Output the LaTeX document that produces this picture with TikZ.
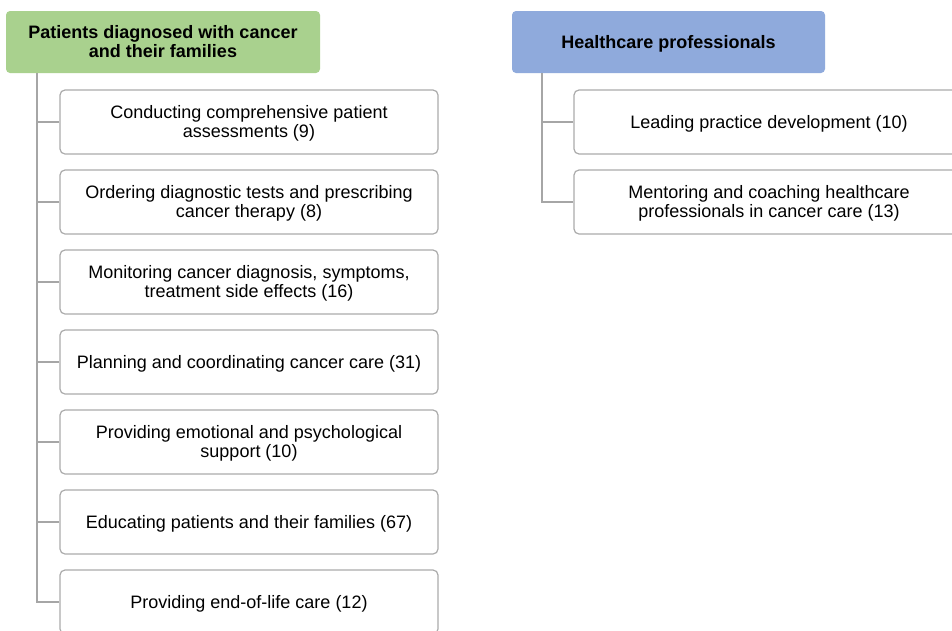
\documentclass[tikz,border=0pt]{standalone}
\usepackage{fontspec}
\setmainfont{Liberation Sans}
\definecolor{hgreen}{HTML}{A9D18E}
\definecolor{hblue}{HTML}{8FAADC}
\definecolor{boxgray}{HTML}{ABABAB}
\definecolor{conngray}{HTML}{A6A6A6}
\newcommand\lstr{\rule[-3.25pt]{0pt}{19pt}}
\newcommand\tightls{\lineskiplimit=-20pt\relax\lineskip=0pt\relax}
\begin{document}
\begin{tikzpicture}[x=1pt,y=-1pt,
  header/.style={rectangle, rounded corners=4pt, minimum height=62pt, inner sep=0pt,
     font=\fontsize{18}{19}\selectfont\tightls\bfseries, align=center, text=black},
  childbox/.style={rectangle, rounded corners=5pt, draw=boxgray, line width=1.2pt, fill=white,
     minimum height=64pt, inner sep=0pt, font=\fontsize{18}{19}\selectfont\tightls, align=center, text=black},
  conn/.style={draw=conngray, line width=1.3pt}]
\useasboundingbox (0,0) rectangle (952,630);
\clip (0,0) rectangle (952,630);
\fill[white] (0,0) rectangle (952,630);

\node[header, fill=hgreen, minimum width=314pt] (h1) at (163,42) {\lstr Patients diagnosed with cancer\\\lstr and their families};
\node[header, fill=hblue, minimum width=313pt] (h2) at (668.5,42) {\lstr Healthcare professionals};

\coordinate (t1) at (37,73);
\coordinate (t2) at (542,73);

\node[childbox, minimum width=378pt] (c1) at (249,122) {\lstr Conducting comprehensive patient\\\lstr assessments (9)};
\node[childbox, minimum width=378pt] (c2) at (249,202) {\lstr Ordering diagnostic tests and prescribing\\\lstr cancer therapy (8)};
\node[childbox, minimum width=378pt] (c3) at (249,282) {\lstr Monitoring cancer diagnosis, symptoms,\\\lstr treatment side effects (16)};
\node[childbox, minimum width=378pt] (c4) at (249,362) {\lstr Planning and coordinating cancer care (31)};
\node[childbox, minimum width=378pt] (c5) at (249,442) {\lstr Providing emotional and psychological\\\lstr support (10)};
\node[childbox, minimum width=378pt] (c6) at (249,522) {\lstr Educating patients and their families (67)};
\node[childbox, minimum width=378pt] (c7) at (249,602) {\lstr Providing end-of-life care (12)};

\node[childbox, minimum width=390pt] (r1) at (769,122) {\lstr Leading practice development (10)};
\node[childbox, minimum width=390pt] (r2) at (769,202) {\lstr Mentoring and coaching healthcare\\\lstr professionals in cancer care (13)};

\draw[conn] (t1) |- (c7.west);
\foreach \n in {c1,c2,c3,c4,c5,c6}{
  \draw[conn] (t1 |- \n.west) -- (\n.west);
}
\draw[conn] (t2) |- (r2.west);
\draw[conn] (t2 |- r1.west) -- (r1.west);
\end{tikzpicture}
\end{document}
